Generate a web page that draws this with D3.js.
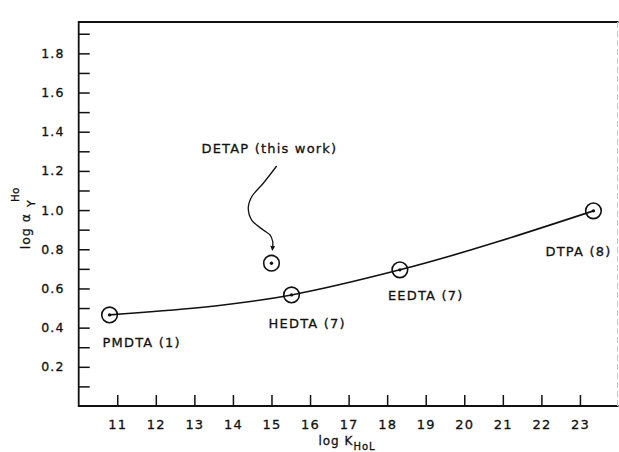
<!DOCTYPE html>
<html>
<head>
<meta charset="utf-8">
<script src="https://cdn.jsdelivr.net/npm/d3@7"></script>
<style>
  html, body { margin: 0; padding: 0; background: #fff; }
  svg { display: block; }
  text { font-family: "DejaVu Sans", "Liberation Sans", sans-serif; fill: #111; stroke: #111; stroke-width: 0.3px; }
</style>
</head>
<body>
<svg id="chart" width="619" height="452"></svg>
<script>
// ---- data ----
const ligands = ["PMDTA (1)", "HEDTA (7)", "EEDTA (7)", "DTPA (8)"];
const logK = [10.8, 15.52, 18.33, 23.35];
const logAlpha = [0.465, 0.567, 0.695, 0.996];

const detapLabel = "DETAP (this work)";
const detapK = 15.0;
const detapAlpha = 0.729;

const xTicks = [11, 12, 13, 14, 15, 16, 17, 18, 19, 20, 21, 22, 23];
const yTicks = [0.1, 0.2, 0.3, 0.4, 0.5, 0.6, 0.7, 0.8, 0.9, 1.0, 1.1, 1.2, 1.3, 1.4, 1.5, 1.6, 1.7, 1.8, 1.9];
const yTickLabels = ["0.2", "0.4", "0.6", "0.8", "1.0", "1.2", "1.4", "1.6", "1.8"];

// arrow annotation path (data units)
const arrowK = [15.135, 14.787, 14.487, 14.398, 14.487, 14.787, 14.961, 15.031, 15.031];
const arrowAlpha = [1.225, 1.137, 1.068, 1.009, 0.949, 0.898, 0.873, 0.840, 0.812];

// ---- layout ----
const plotL = 78.7, plotR = 618.5, plotT = 22, plotB = 406;
const svg = d3.select("#chart");

const x = d3.scaleLinear().domain([10, 24]).range([plotL, plotR]);
const y = d3.scaleLinear().domain([0, 1.96]).range([plotB, plotT]);

const black = "#111";

// defs: arrowhead
svg.append("defs").append("marker")
  .attr("id", "arrowhead")
  .attr("viewBox", "0 0 10 10")
  .attr("refX", 2).attr("refY", 5)
  .attr("markerWidth", 8).attr("markerHeight", 5)
  .attr("markerUnits", "userSpaceOnUse")
  .attr("orient", "auto")
  .append("path").attr("d", "M0,0 L10,5 L0,10 Z").attr("fill", black);

// ---- axes ----
const xAxis = d3.axisBottom(x).tickValues(xTicks).tickSizeInner(-11).tickSizeOuter(0).tickPadding(14)
  .tickFormat(d3.format("d"));
const gx = svg.append("g").attr("transform", `translate(0,${plotB})`).call(xAxis);
gx.select(".domain").remove();
gx.selectAll(".tick line").attr("stroke", black).attr("stroke-width", 1.5);
gx.selectAll(".tick text").attr("font-size", 13).attr("letter-spacing", 1.2).attr("fill", black);

const labelSet = new Set(yTickLabels);
const yAxis = d3.axisLeft(y).tickValues(yTicks).tickSizeInner(-11).tickSizeOuter(0).tickPadding(14)
  .tickFormat(d => { const s = d3.format(".1f")(d); return labelSet.has(s) ? s : ""; });
const gy = svg.append("g").attr("transform", `translate(${plotL},0)`).call(yAxis);
gy.select(".domain").remove();
gy.selectAll(".tick line").attr("stroke", black).attr("stroke-width", 1.5);
gy.selectAll(".tick text").attr("font-size", 12.5).attr("letter-spacing", 1.2).attr("fill", black);

// frame
svg.append("path")
  .attr("d", `M${plotR},${plotT} L${plotL},${plotT} L${plotL},${plotB} L${plotR},${plotB}`)
  .attr("fill", "none").attr("stroke", black).attr("stroke-width", 1.8);
svg.append("line")
  .attr("x1", plotR - 1).attr("x2", plotR - 1).attr("y1", plotT).attr("y2", plotB)
  .attr("stroke", "#c8c8c8").attr("stroke-width", 1).attr("stroke-dasharray", "6,3");

// ---- axis titles ----
const xt = svg.append("text").attr("x", 347).attr("y", 445).attr("text-anchor", "middle")
  .attr("font-size", 12).attr("letter-spacing", 1);
xt.append("tspan").text("log K");
xt.append("tspan").attr("dy", 5).attr("font-size", 10).text("HoL");

const yt = svg.append("g").attr("transform", "translate(30,248) rotate(-90)");
yt.append("text").attr("x", 35).attr("y", 0).attr("text-anchor", "end")
  .attr("font-size", 12.5).attr("letter-spacing", 1).text("log α");
yt.append("text").attr("x", 41).attr("y", 5).attr("font-size", 11).text("Y");
yt.append("text").attr("x", 46).attr("y", -11).attr("font-size", 10.5).text("Ho");

// ---- line through points ----
const pts = logK.map((k, i) => [k, logAlpha[i]]);
const line = d3.line().x(d => x(d[0])).y(d => y(d[1])).curve(d3.curveMonotoneX);
svg.append("path").attr("d", line(pts)).attr("fill", "none")
  .attr("stroke", black).attr("stroke-width", 1.6);

// ---- point markers ----
const allPts = pts.concat([[detapK, detapAlpha]]);
svg.selectAll("circle.ring").data(allPts).enter().append("circle")
  .attr("class", "ring")
  .attr("cx", d => x(d[0])).attr("cy", d => y(d[1])).attr("r", 7.8)
  .attr("fill", "none").attr("stroke", black).attr("stroke-width", 1.6);
svg.selectAll("circle.dot").data(allPts).enter().append("circle")
  .attr("class", "dot")
  .attr("cx", d => x(d[0])).attr("cy", d => y(d[1])).attr("r", 1.7)
  .attr("fill", black);

// ---- point labels ----
const labelOffsets = [[-7, 32], [-23, 33], [-12, 30], [-48, 45]];
svg.selectAll("text.plabel").data(ligands).enter().append("text")
  .attr("class", "plabel")
  .attr("x", (d, i) => x(logK[i]) + labelOffsets[i][0])
  .attr("y", (d, i) => y(logAlpha[i]) + labelOffsets[i][1])
  .attr("font-size", 13).attr("letter-spacing", 1.2)
  .text(d => d);

svg.append("text")
  .attr("x", x(detapK) - 70).attr("y", y(detapAlpha) - 110)
  .attr("font-size", 13).attr("letter-spacing", 1.2)
  .text(detapLabel);

// ---- arrow ----
const arrowPts = arrowK.map((k, i) => [k, arrowAlpha[i]]);
const arrowLine = d3.line().x(d => x(d[0])).y(d => y(d[1])).curve(d3.curveCatmullRom);
svg.append("path").attr("d", arrowLine(arrowPts)).attr("fill", "none")
  .attr("stroke", black).attr("stroke-width", 1.3)
  .attr("marker-end", "url(#arrowhead)");
</script>
</body>
</html>
